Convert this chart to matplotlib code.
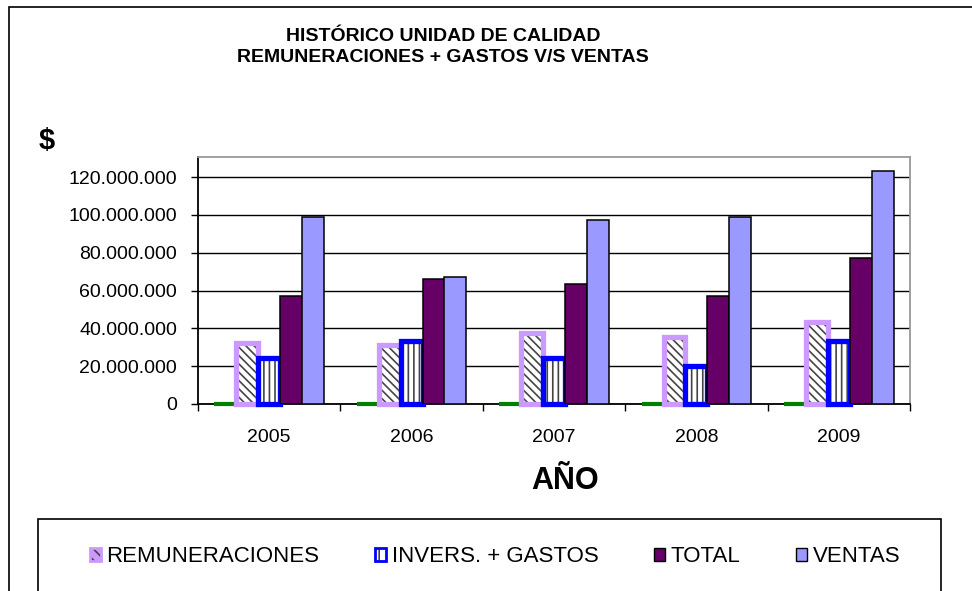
import matplotlib
matplotlib.use('Agg')
import matplotlib.pyplot as plt
from matplotlib.patches import Patch, Rectangle
from matplotlib.ticker import FuncFormatter, FixedLocator
import numpy as np

plt.rcParams['font.family'] = ['Liberation Sans', 'DejaVu Sans']
plt.rcParams['hatch.linewidth'] = 1.2

years = ['2005', '2006', '2007', '2008', '2009']
serie_oculta = [0, 0, 0, 0, 0]
remuneraciones = [32.4e6, 31.2e6, 37.3e6, 35.4e6, 43.4e6]
invers_gastos = [24.3e6, 33.3e6, 24.3e6, 20.1e6, 33.3e6]
total = [57.3e6, 66.3e6, 63.3e6, 57.3e6, 77.4e6]
ventas = [99.1e6, 67.2e6, 97.4e6, 99.1e6, 123.3e6]

W, H = 972, 591
fig = plt.figure(figsize=(W / 100, H / 100), dpi=100)
fig.patch.set_facecolor('white')

# outer chart frame and legend box (both run off the right/bottom edge)
fig.patches.append(Rectangle((9 / W, -0.05), 1.1, 1 - 7 / H + 0.05, transform=fig.transFigure,
                             fill=False, edgecolor='black', lw=1.2, zorder=0))
fig.patches.append(Rectangle((38 / W, -0.05), (941 - 38) / W, 1 - 519 / H + 0.05,
                             transform=fig.transFigure, fill=False, edgecolor='black', lw=1.2, zorder=0))

ax = fig.add_axes([198 / W, 1 - 404 / H, (910 - 198) / W, (404 - 157) / H])

x = np.arange(len(years))
w = 1 / 6.5
left = x + 0.75 * w

ax.bar(left, serie_oculta, width=w, align='edge', color='#008000', edgecolor='#008000',
       lw=3, clip_on=False, zorder=3)
ax.bar(left + w, remuneraciones, width=w, align='edge', color='white', edgecolor='#444444',
       lw=0, hatch='\\\\\\\\', zorder=3)
ax.bar(left + w, remuneraciones, width=w, align='edge', fill=False, edgecolor='#CC99FF',
       lw=3.8, clip_on=False, zorder=3)
ax.bar(left + 2 * w, invers_gastos, width=w, align='edge', color='white', edgecolor='#444444',
       lw=0, hatch='|||', zorder=3)
ax.bar(left + 2 * w, invers_gastos, width=w, align='edge', fill=False, edgecolor='#0000FF',
       lw=3.8, clip_on=False, zorder=3)
ax.bar(left + 3 * w, total, width=w, align='edge', color='#660066', edgecolor='black',
       lw=1.1, zorder=3)
ax.bar(left + 4 * w, ventas, width=w, align='edge', color='#9999FF', edgecolor='black',
       lw=1.1, zorder=3)

ax.set_xlim(0, 5)
ax.set_ylim(0, 130.6e6)
ax.set_yticks(np.arange(0, 120e6 + 1, 20e6))
ax.yaxis.set_major_formatter(FuncFormatter(lambda v, p: f'{v:,.0f}'.replace(',', '.')))
ax.grid(axis='y', color='black', lw=1.0, zorder=1)
ax.set_axisbelow(True)

ax.xaxis.set_major_locator(FixedLocator(np.arange(0, 6)))
ax.xaxis.set_minor_locator(FixedLocator(x + 0.5))
ax.set_xticklabels([])
ax.set_xticklabels(years, minor=True)
ax.tick_params(axis='x', which='major', length=5, width=1, color='black')
ax.tick_params(axis='x', which='minor', length=0, pad=18, labelsize=14)
ax.tick_params(axis='y', length=5, width=1, pad=10, labelsize=14)

for s in ['left', 'bottom']:
    ax.spines[s].set_color('black')
    ax.spines[s].set_linewidth(1.3)
for s in ['top', 'right']:
    ax.spines[s].set_color('#999999')
    ax.spines[s].set_linewidth(1.3)

fig.text(443 / W, 1 - 47 / H, 'HISTÓRICO UNIDAD DE CALIDAD\nREMUNERACIONES + GASTOS V/S VENTAS',
         ha='center', va='center', fontsize=14, fontweight='bold', linespacing=1.3)
fig.text(39 / W, 1 - 141 / H, '$', ha='left', va='center', fontsize=21, fontweight='bold')
fig.text(565 / W, 1 - 481 / H, 'AÑO', ha='center', va='center', fontsize=22, fontweight='bold')

handles = [
    (Patch(facecolor='#CC99FF', edgecolor='#444444', hatch='\\\\\\', lw=0),
     Patch(fill=False, edgecolor='#CC99FF', lw=2)),
    (Patch(facecolor='white', edgecolor='#444444', hatch='||', lw=0),
     Patch(fill=False, edgecolor='#0000FF', lw=2)),
    Patch(facecolor='#660066', edgecolor='black', lw=1),
    Patch(facecolor='#9999FF', edgecolor='black', lw=1),
]
labels = ['REMUNERACIONES', 'INVERS. + GASTOS', 'TOTAL', 'VENTAS']
fig.legend(handles, labels, loc='center', bbox_to_anchor=(495 / W, 1 - 557 / H), ncol=4,
           frameon=False, fontsize=16, handlelength=0.5, handleheight=0.5,
           handletextpad=0.25, columnspacing=2.5)

fig.savefig('out.png', dpi=100)
